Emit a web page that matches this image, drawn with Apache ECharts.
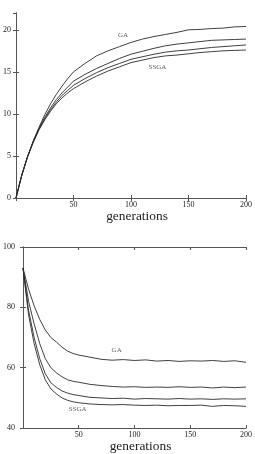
<!DOCTYPE html>
<html><head><meta charset="utf-8">
<script src="https://cdn.jsdelivr.net/npm/echarts@6/dist/echarts.min.js"></script>
<style>html,body{margin:0;padding:0;background:#fff}#c{width:255px;height:454px}</style>
</head><body><div id="c"></div>
<script>
// Top chart (rising curves)
var topGens = [0,2,5,10,15,20,25,30,35,40,45,50,60,70,80,90,100,110,120,130,140,150,160,170,180,190,200];
var topGA   = [0,1.1,2.7,4.9,6.8,8.4,9.9,11.2,12.3,13.3,14.2,15.0,16.0,16.9,17.5,18.0,18.5,18.9,19.2,19.45,19.7,20.0,20.05,20.15,20.2,20.35,20.4];
var topS2   = [0,1.1,2.7,4.9,6.7,8.3,9.6,10.7,11.7,12.5,13.2,13.9,14.7,15.4,16.0,16.6,17.1,17.45,17.8,18.1,18.3,18.45,18.6,18.75,18.8,18.85,18.9];
var topS3   = [0,1.1,2.7,4.9,6.7,8.2,9.4,10.5,11.4,12.2,12.8,13.4,14.2,14.9,15.5,16.0,16.5,16.8,17.1,17.35,17.5,17.6,17.75,17.9,18.0,18.1,18.2];
var topSSGA = [0,1.1,2.7,4.9,6.6,8.1,9.3,10.3,11.2,11.9,12.5,13.0,13.8,14.5,15.1,15.6,16.1,16.4,16.7,16.9,17.0,17.15,17.3,17.4,17.5,17.55,17.6];
var topTicks = [0,5,10,15,20];
var topLabels = [['GA',93,19.4],['SSGA',123,15.6]];

// Bottom chart (falling curves)
var botGens = [0,5,10,15,20,25,30,35,40,45,50,60,70,80,90,100,110,120,130,140,150,160,170,180,190,200];
var botGA   = [93,86,80.5,76,72.5,70,68.5,66.8,65.5,64.7,64.2,63.5,62.8,62.5,62.7,62.4,62.6,62.2,62.4,62.1,62.3,62.2,62.4,62.1,62.3,61.8];
var botS2   = [93,82,74.5,68,63,60,58.3,57,56,55.5,55.2,54.5,54.1,53.8,53.6,53.7,53.5,53.6,53.5,53.7,53.5,53.6,53.3,53.6,53.4,53.6];
var botS3   = [93,79,70,63,58,55,53.5,52.3,51.6,51.1,50.8,50.2,50.0,49.8,49.9,49.6,49.8,49.7,49.6,49.8,49.6,49.7,49.5,49.7,49.6,49.7];
var botSSGA = [93,77.5,68,61,56,53,51.3,50,49.2,48.7,48.4,48.0,47.8,47.7,47.8,47.6,47.5,47.6,47.4,47.5,47.5,47.6,47.2,47.5,47.4,47.2];
var botTicks = [40,60,80,100];
var botLabels = [['GA',84,65.8],['SSGA',49,46.3]];
var xTicks = [50,100,150,200];

var FONT = 'Liberation Serif';
var LC = '#2a2a2a';
function pairs(g, v){ return g.map(function(x,i){ return [x, v[i]]; }); }
function xAx(gi, pos, show, name){
  return {type:'value', gridIndex:gi, position:pos, min:0, max:200, interval:50,
    axisLine:{show:true, lineStyle:{color:'#555', width:1}},
    axisTick:{show:true, inside:true, length:3, lineStyle:{color:'#555'}},
    axisLabel:{show:show, showMinLabel:false, margin:3, fontFamily:FONT, fontSize:8, color:'#222'},
    splitLine:{show:false},
    name: name||'', nameLocation:'middle', nameGap:11,
    nameTextStyle:{fontFamily:FONT, fontSize:13.4, color:'#222', padding:[0,0,0,12]}};
}
function yAx(gi, pos, show, min, max, interval, margin){
  return {type:'value', gridIndex:gi, position:pos, min:min, max:max, interval:interval,
    axisLine:{show:true, lineStyle:{color:'#555', width:1}},
    axisTick:{show:true, inside:true, length:3, lineStyle:{color:'#555'}},
    axisLabel:{show:show, showMaxLabel: (max % interval === 0), margin:margin, fontFamily:FONT, fontSize:8, color:'#222'},
    splitLine:{show:false}};
}
function line(xi, yi, g, v){
  return {type:'line', xAxisIndex:xi, yAxisIndex:yi, data:pairs(g,v), symbol:'none', smooth:false,
    lineStyle:{color:LC, width:0.9}, silent:true, animation:false};
}
function lbl(xi, yi, arr){
  return {type:'scatter', xAxisIndex:xi, yAxisIndex:yi, symbolSize:0, silent:true, animation:false,
    data: arr.map(function(a){ return {value:[a[1],a[2]], name:a[0]}; }),
    label:{show:true, position:'inside', formatter:'{b}', fontFamily:FONT, fontSize:7, color:'#333'}};
}
var chart = echarts.init(document.getElementById('c'), null, {renderer:'canvas'});
chart.setOption({
  animation:false,
  grid:[{left:12.5, right:8, top:13, height:185},
        {left:16.3, right:8, top:247, height:181.7}],
  xAxis:[xAx(0,'bottom',true,'generations'), xAx(0,'top',false),
         xAx(1,'bottom',true,'generations'), xAx(1,'top',false)],
  yAxis:[yAx(0,'left',true,0,22,5,5), yAx(0,'right',false,0,22,5,5),
         yAx(1,'left',true,40,100,20,8), yAx(1,'right',false,40,100,20,8)],
  series:[
    line(0,0,topGens,topGA), line(0,0,topGens,topS2), line(0,0,topGens,topS3), line(0,0,topGens,topSSGA),
    lbl(0,0,topLabels),
    line(2,2,botGens,botGA), line(2,2,botGens,botS2), line(2,2,botGens,botS3), line(2,2,botGens,botSSGA),
    lbl(2,2,botLabels)
  ]
});
</script></body></html>
